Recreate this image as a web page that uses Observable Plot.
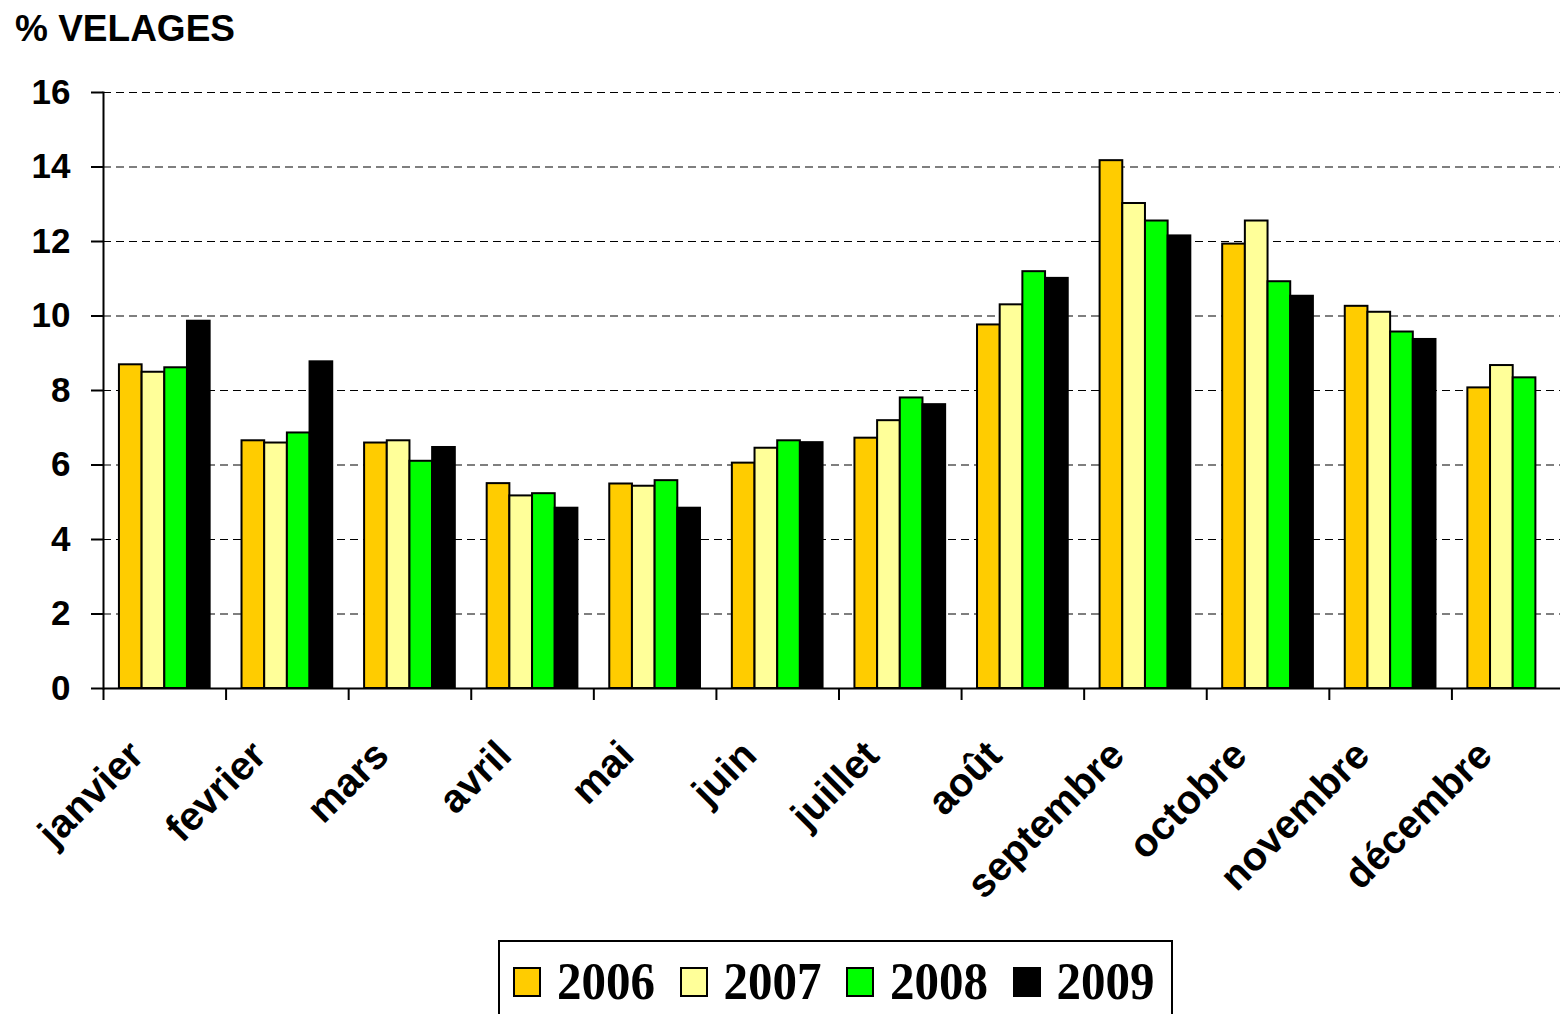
<!DOCTYPE html>
<html>
<head>
<meta charset="utf-8">
<script src="https://cdn.jsdelivr.net/npm/d3@7"></script>
<script src="https://cdn.jsdelivr.net/npm/@observablehq/plot@0.6"></script>
<style>
  html, body { margin: 0; padding: 0; background: #fff; overflow: hidden; width: 1560px; height: 1014px; }
  #title { font-family: "Liberation Sans", Arial, sans-serif; font-weight: bold; font-size: 37px; line-height: 50px; height: 50px; padding: 4px 0 0 15px; color: #000; }
  #chart svg { display: block; overflow: visible; }
  #legend { position: absolute; left: 498px; top: 940px; width: 675px; height: 90px; box-sizing: border-box; border: 2px solid #000; background: #fff; }
  #legend .items { position: absolute; left: 13px; top: 18px; height: 44px; display: flex; align-items: center; }
  #legend .sw { width: 24px; height: 26px; border: 2px solid #000; margin-right: 16px; }
  #legend .lab { font-family: "Liberation Serif", "Times New Roman", serif; font-weight: bold; font-size: 49px; line-height: 44px; margin-right: 24.5px; transform: scaleY(1.08); }
</style>
</head>
<body>
<div id="title">% VELAGES</div>
<div id="chart"></div>
<div id="legend"><div class="items" id="legendItems"></div></div>
<script>
const months = ["janvier","fevrier","mars","avril","mai","juin","juillet","août","septembre","octobre","novembre","décembre"];
const years = ["2006","2007","2008","2009"];
const colors = ["#FFCC00","#FFFF99","#00FF00","#000000"];
const v2006 = [8.69, 6.65, 6.59, 5.50, 5.49, 6.05, 6.72, 9.76, 14.17, 11.93, 10.26, 8.07];
const v2007 = [8.49, 6.59, 6.65, 5.17, 5.43, 6.45, 7.19, 10.30, 13.02, 12.55, 10.10, 8.67];
const v2008 = [8.61, 6.86, 6.10, 5.23, 5.58, 6.65, 7.80, 11.19, 12.55, 10.92, 9.57, 8.34];
const v2009 = [9.86, 8.77, 6.47, 4.84, 4.84, 6.60, 7.62, 11.01, 12.15, 10.53, 9.37, null];
const yTicks = [0, 2, 4, 6, 8, 10, 12, 14, 16];

const series = [v2006, v2007, v2008, v2009];
const rangeX = [103, 1574];
const pIn = 0.26;
const step = (rangeX[1] - rangeX[0]) / months.length;
const bw = step * (1 - pIn);
const barW = bw / years.length;

const font = '"Liberation Sans", Arial, sans-serif';

const barMarks = series.map((vals, i) => {
  const rows = months.map((m, j) => ({month: m, value: vals[j]})).filter(d => d.value != null);
  return Plot.barY(rows, {
    x: "month", y: "value",
    fill: colors[i], stroke: "#000", strokeWidth: 2,
    insetLeft: i * barW, insetRight: (years.length - 1 - i) * barW
  });
});

const chart = Plot.plot({
  width: 1560,
  height: 876,
  marginTop: 38,
  marginBottom: 242,
  marginLeft: 103,
  marginRight: 0,
  style: {fontFamily: font, background: "#fff", color: "#000", overflow: "visible"},
  x: {type: "band", domain: months, range: rangeX, paddingInner: pIn, paddingOuter: pIn / 2, round: false},
  y: {domain: [0, 16]},
  marks: [
    Plot.gridY(yTicks.filter(t => t > 0), {stroke: "#000", strokeOpacity: 1, strokeWidth: 1.2, strokeDasharray: "8,5"}),
    ...barMarks,
    Plot.ruleY([0], {stroke: "#000", strokeWidth: 2}),
    Plot.frame({anchor: "left", stroke: "#000", strokeWidth: 2}),
    Plot.axisY({ticks: yTicks, tickSize: 12, tickPadding: 21, fontSize: 35, fontWeight: "bold", label: null, strokeWidth: 2}),
    Plot.axisX({tickSize: 12, tickFormat: () => "", label: null, dx: -step / 2, strokeWidth: 2}),
    Plot.text(months, {
      x: d => d, text: d => d, frameAnchor: "bottom",
      rotate: -45, textAnchor: "end", dx: -19, dy: 69,
      fontSize: 40, fontWeight: "bold", fill: "#000"
    })
  ]
});
document.getElementById("chart").appendChild(chart);

const li = document.getElementById("legendItems");
years.forEach((y, i) => {
  const sw = document.createElement("div");
  sw.className = "sw";
  sw.style.background = colors[i];
  const lab = document.createElement("div");
  lab.className = "lab";
  lab.textContent = y;
  li.appendChild(sw);
  li.appendChild(lab);
});
</script>
</body>
</html>
